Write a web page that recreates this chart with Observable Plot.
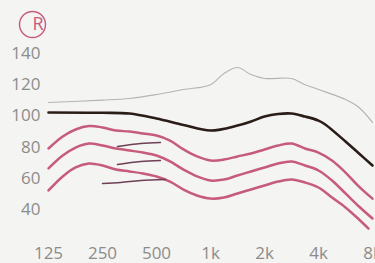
<!DOCTYPE html>
<html>
<head>
<meta charset="utf-8">
<script src="https://cdn.jsdelivr.net/npm/d3@7"></script>
<script src="https://cdn.jsdelivr.net/npm/@observablehq/plot@0.6"></script>
<style>
  html, body { margin: 0; padding: 0; background: #f4f4f2; overflow: hidden; }
  #chart { width: 375px; height: 263px; overflow: hidden; }
</style>
</head>
<body>
<div id="chart"></div>
<script>
// Tick values and labels
const xTicks = [125, 250, 500, 1000, 2000, 4000, 8000];
const xTickLabels = ["125", "250", "500", "1k", "2k", "4k", "8k"];
const yTicks = [40, 60, 80, 100, 120, 140];
const sideLabel = ["R"];

// Thin gray curve (top)
const grayFreq = [125, 250, 354, 500, 707, 1000, 1189, 1414, 1682, 2000, 2828, 3364, 4000, 5657, 6727, 8000];
const grayDb   = [108.6, 110.1, 111.2, 113.7, 116.9, 120, 127.2, 131, 126.5, 124, 124, 120, 116.9, 110.5, 105.4, 95.8];

// Black curve
const blackFreq = [125, 250, 354, 500, 707, 1000, 1414, 1682, 2000, 2378, 2828, 3364, 4000, 4362, 5657, 6727, 8000];
const blackDb   = [102.2, 102, 101.5, 98.3, 94.2, 90.6, 93.8, 96.4, 99.6, 101.2, 101.5, 99.6, 97, 94.5, 83.6, 75.9, 68.2];

// Pink curves
const pinkFreq = [125, 150, 177, 210, 250, 297, 354, 420, 500, 595, 707, 841, 1000, 1189, 1414, 1682, 2000, 2378, 2828, 3364, 4000, 4757, 5657, 6727, 8000];
const pinkUpper  = [79.1, 86.8, 91.3, 93.5, 92.6, 90.6, 90, 88.7, 87.4, 84.2, 78.5, 74, 71.4, 72, 74, 75.9, 78.5, 81, 82.3, 79.1, 76.5, 71.4, 63.7, 54.7, 47];
const pinkMiddle = [66.3, 74.6, 79.7, 82.3, 81, 79.1, 77.8, 76.5, 74.6, 70.8, 65.6, 61.2, 58.6, 59.2, 61.8, 64.4, 66.9, 69.5, 70.8, 68.2, 65, 58.6, 50.3, 41.9, 34.2];
const pinkLowerFreq = [125, 150, 177, 210, 250, 297, 354, 420, 500, 595, 707, 841, 1000, 1189, 1414, 1682, 2000, 2378, 2828, 3364, 4000, 4757, 5657, 6727, 7600];
const pinkLower  = [52.2, 61.2, 67, 69.5, 68.2, 65.6, 64.4, 63.1, 61.2, 57.9, 52.8, 49, 47, 47.7, 50.3, 52.8, 55.4, 57.9, 59.2, 57.3, 54.1, 47.7, 41.3, 33.6, 27.8];

// Short dark strokes
const seg1Freq = [303, 408, 526];
const seg1Db   = [80.4, 82.3, 83];
const seg2Freq = [303, 408, 526];
const seg2Db   = [68.8, 70.8, 71.4];
const seg3Freq = [250, 316, 408, 560];
const seg3Db   = [56.7, 57.3, 58.6, 59.2];

const toRows = (fs, vs) => fs.map((f, i) => ({f, v: vs[i]}));

const PINK = "#c65b7c";
const DARK = "#6e3f55";
const FONT = "'Open Sans', sans-serif";

const lineOpts = (stroke, w) => ({x: "f", y: "v", stroke, strokeWidth: w, curve: "catmull-rom", strokeLinecap: "round", strokeLinejoin: "round"});

const chart = Plot.plot({
  width: 375,
  height: 263,
  marginLeft: 48,
  marginRight: 3,
  marginTop: 53,
  marginBottom: 54,
  style: {background: "transparent", fontFamily: FONT, fontSize: "17px", color: "#8c8c8c", overflow: "visible"},
  x: {type: "log", domain: [125, 8000], axis: null},
  y: {domain: [40, 140]},
  marks: [
    Plot.text(xTicks, {x: d => d, text: (d, i) => xTickLabels[i], frameAnchor: "bottom", lineAnchor: "top", dy: 37, fill: "#8c8c8c", fontSize: 17, fontFamily: FONT}),
    Plot.axisY({ticks: yTicks, tickSize: 0, tickPadding: 8, label: null}),
    Plot.line(toRows(grayFreq, grayDb), lineOpts("#b4b4b4", 1.1)),
    Plot.line(toRows(blackFreq, blackDb), lineOpts("#2a1c17", 2.6)),
    Plot.line(toRows(pinkFreq, pinkUpper), lineOpts(PINK, 2.5)),
    Plot.line(toRows(pinkFreq, pinkMiddle), lineOpts(PINK, 2.5)),
    Plot.line(toRows(pinkLowerFreq, pinkLower), lineOpts(PINK, 2.5)),
    Plot.line(toRows(seg1Freq, seg1Db), lineOpts(DARK, 1.5)),
    Plot.line(toRows(seg2Freq, seg2Db), lineOpts(DARK, 1.5)),
    Plot.line(toRows(seg3Freq, seg3Db), lineOpts(DARK, 1.5)),
    Plot.dot(sideLabel, {frameAnchor: "top-left", dx: -16, dy: -29, r: 13, stroke: PINK, strokeWidth: 1.4, fill: "none"}),
    Plot.text(sideLabel, {text: d => d, frameAnchor: "top-left", lineAnchor: "middle", dx: -16, dy: -29, fill: PINK, fontSize: 18, fontFamily: FONT})
  ]
});
document.getElementById("chart").appendChild(chart);
</script>
</body>
</html>
